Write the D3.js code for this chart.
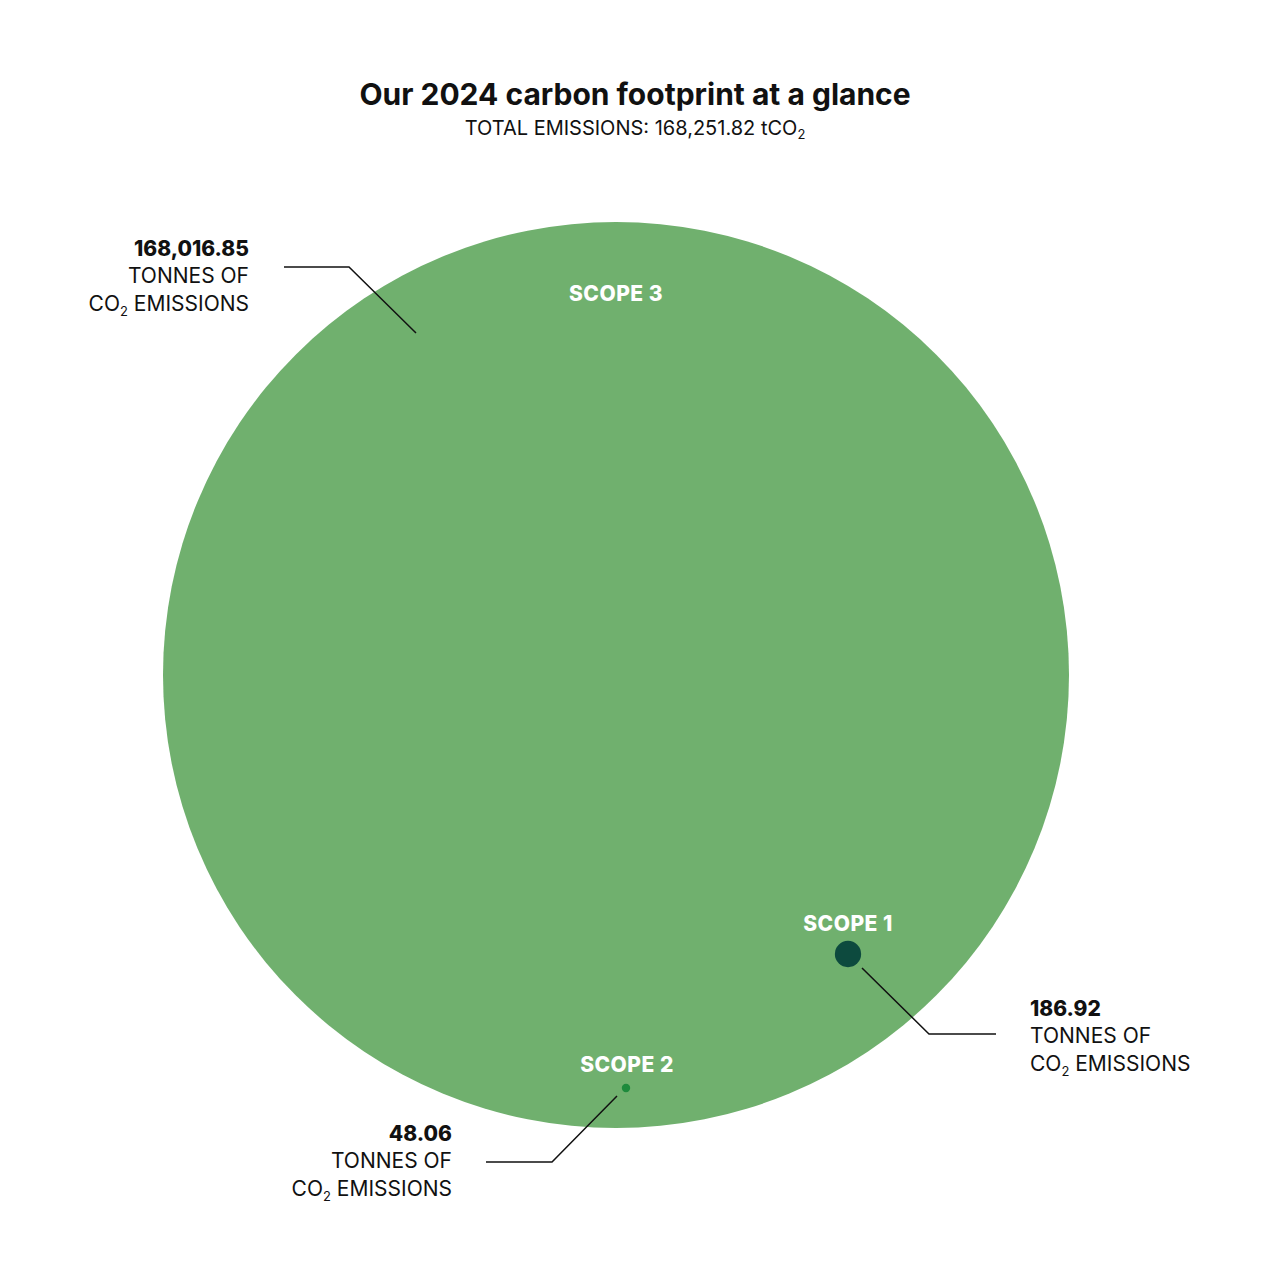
<!DOCTYPE html>
<html><head><meta charset="utf-8">
<script src="https://cdn.jsdelivr.net/npm/d3@7"></script>
<style>body{margin:0;background:#fff}text{font-family:Inter,"Noto Sans",sans-serif}</style>
</head><body><div id="chart"></div>
<script>
const scopes = ["SCOPE 3", "SCOPE 1", "SCOPE 2"];
const values = [168016.85, 186.92, 48.06];
const valueLabels = ["168,016.85", "186.92", "48.06"];
const colors = ["#70b06e", "#0d4a3e", "#1e8a3c"];

const svg = d3.select("#chart").append("svg").attr("width", 1280).attr("height", 1280);

// titel
svg.append("text").attr("x", 635).attr("y", 105).attr("text-anchor", "middle")
  .attr("font-size", 30).attr("font-weight", 700).attr("fill", "#111").text("Our 2024 carbon footprint at a glance");
const sub = svg.append("text").attr("x", 635).attr("y", 135).attr("text-anchor", "middle")
  .attr("font-size", 20).attr("fill", "#111");
sub.append("tspan").text("TOTAL EMISSIONS: 168,251.82 tCO");
sub.append("tspan").attr("font-size", 13).attr("dy", 4).text("2");

const r = d3.scaleSqrt().domain([0, values[0]]).range([0, 453]);
// posities
const cx = [616, 848, 626], cy = [675, 954, 1088];
const rad = values.map((v, i) => i === 0 ? r(v) : r(v) * [1, 0.87, 0.55][i]);

svg.selectAll("circle.s").data(values).join("circle")
  .attr("cx", (d, i) => cx[i]).attr("cy", (d, i) => cy[i]).attr("r", (d, i) => rad[i])
  .attr("fill", (d, i) => colors[i]);

// scope labels
const lp = [[616, 301], [848, 931], [627, 1072]];
scopes.forEach((s, i) => svg.append("text").attr("x", lp[i][0]).attr("y", lp[i][1])
  .attr("text-anchor", "middle").attr("font-size", 21).attr("font-weight", 800)
  .attr("fill", "#fff").attr("letter-spacing", 0.5).text(s));

// leaders
const leaders = [[[416, 333], [349, 267], [284, 267]], [[862, 968], [929, 1034], [996, 1034]], [[617, 1096], [552, 1162], [486, 1162]]];
leaders.forEach(p => svg.append("path").attr("d", d3.line()(p)).attr("fill", "none").attr("stroke", "#111").attr("stroke-width", 1.5));

// annotaties
const ann = [[249, 256, "end"], [1030, 1016, "start"], [452, 1141, "start"]];
ann[2][2] = "end";
ann.forEach((a, i) => {
  const g = svg.append("g").attr("transform", `translate(${a[0]},${a[1]})`).attr("text-anchor", a[2]).attr("fill", "#111");
  g.append("text").attr("font-size", 21).attr("font-weight", 800).text(valueLabels[i]);
  g.append("text").attr("y", 27).attr("font-size", 21).text("TONNES OF");
  const t = g.append("text").attr("y", 55).attr("font-size", 21);
  t.append("tspan").text("CO");
  t.append("tspan").attr("font-size", 13).attr("dy", 5).text("2");
  t.append("tspan").attr("dy", -5).text(" EMISSIONS");
});
</script></body></html>
